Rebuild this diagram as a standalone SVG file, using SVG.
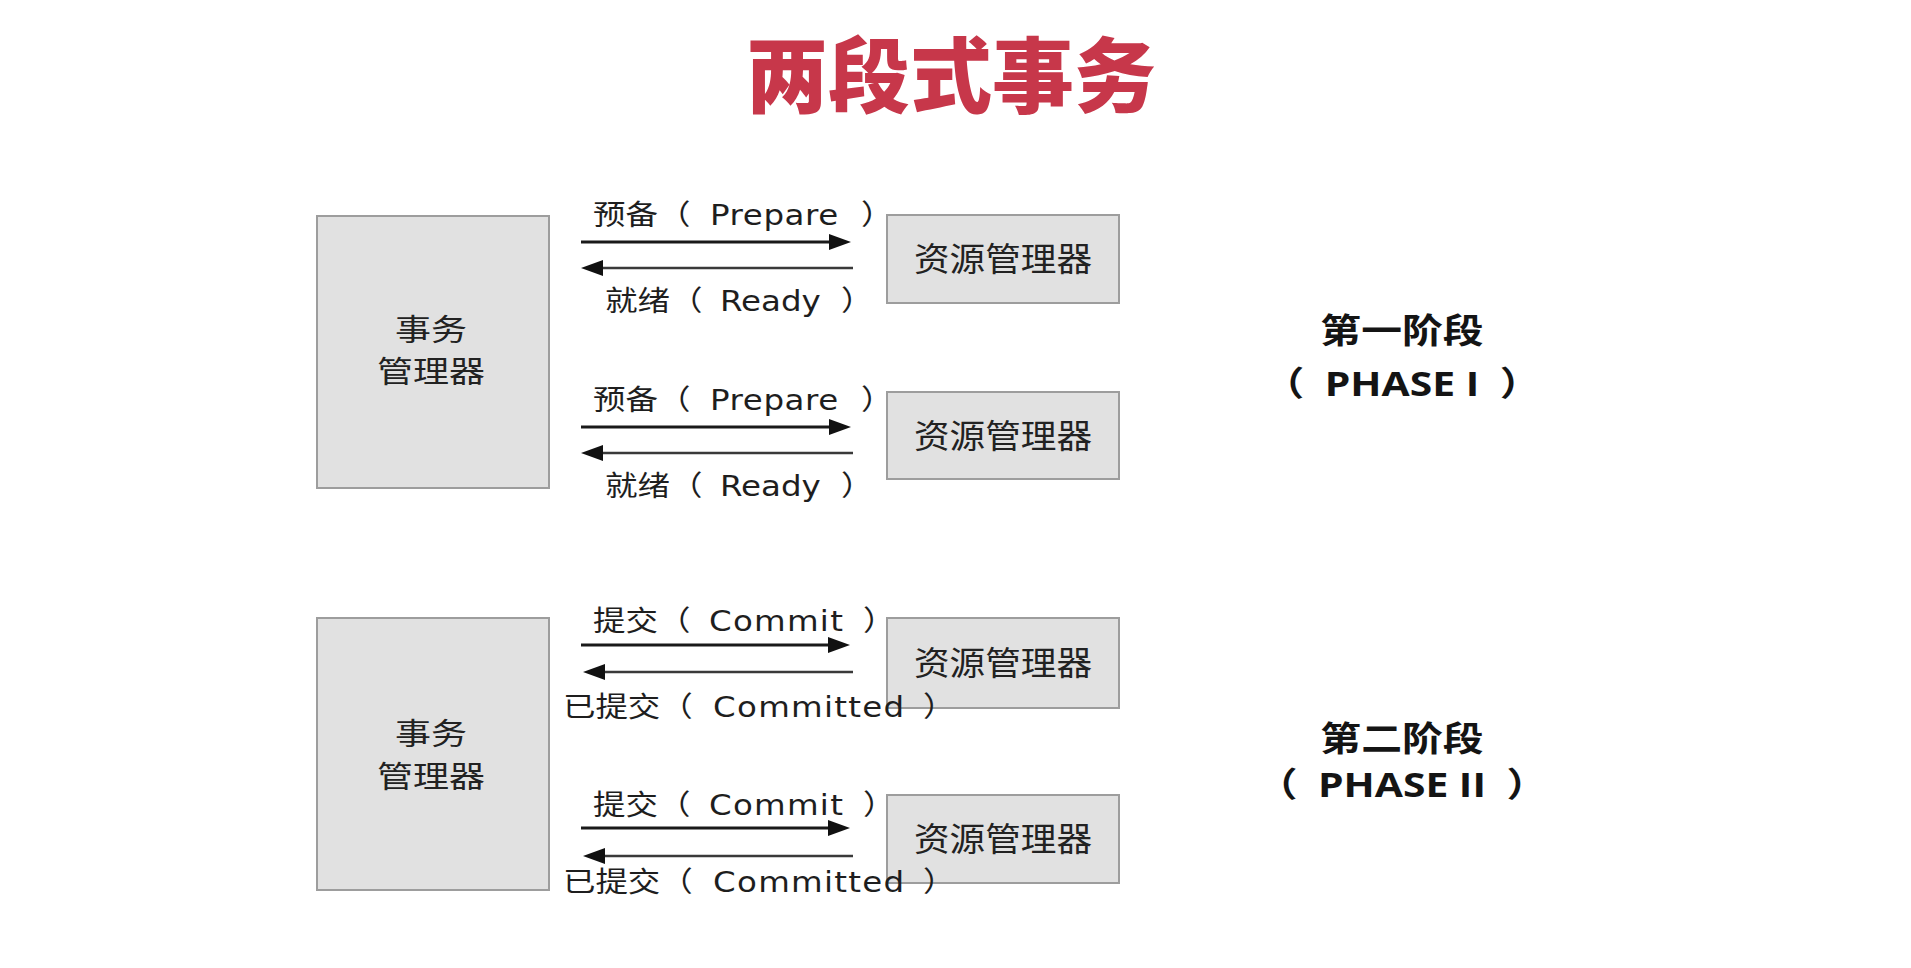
<svg xmlns="http://www.w3.org/2000/svg" width="1911" height="968" viewBox="0 0 1911 968">
<style>
.bg{fill:#ffffff}
.box{fill:#e1e1e1;stroke:#9d9d9d;stroke-width:2}
.title{font-family:"Noto Sans CJK SC",sans-serif;font-weight:900;font-size:82px;fill:#c7374a;text-anchor:middle}
.tm{font-family:"Noto Sans CJK SC",sans-serif;font-size:30px;fill:#222222;text-anchor:middle}
.rm{font-family:"Noto Sans CJK SC",sans-serif;font-size:33px;fill:#222222;text-anchor:middle}
.lbl{font-family:"DejaVu Sans","Noto Sans CJK SC",sans-serif;font-size:28px;fill:#1e1e1e}
.ph{font-family:"Open Sans","Noto Sans CJK SC",sans-serif;font-weight:700;font-size:34px;fill:#141414;text-anchor:middle}
.fwd{stroke:#1a1a1a;stroke-width:3;fill:none}
.back{stroke:#3a3a3a;stroke-width:2.5;fill:none}
.ls1{letter-spacing:0.5px}
.ls2{letter-spacing:1.1px}
</style>
<defs>
<marker id="ah" viewBox="0 0 22 16" markerWidth="22" markerHeight="16" refX="1" refY="8" markerUnits="userSpaceOnUse" orient="auto">
<path d="M0,0 L22,8 L0,16 Z" fill="#111111"/>
</marker>
</defs>
<rect class="bg" x="0" y="0" width="1911" height="968"/>
<g id="title"><text class="title" x="951" y="106">两段式事务</text></g>

<g id="tm1"><rect class="box" x="317" y="216" width="232" height="272"/>
<text class="tm" transform="scale(1.2,1)"><tspan x="359.2" y="340">事务</tspan><tspan x="359.2" y="382">管理器</tspan></text></g>
<g id="rm1"><rect class="box" x="887" y="215" width="232" height="88"/>
<text class="rm" transform="scale(1.08,1)" x="928.7" y="271">资源管理器</text></g>
<g id="rm2"><rect class="box" x="887" y="392" width="232" height="87"/>
<text class="rm" transform="scale(1.08,1)" x="928.7" y="448">资源管理器</text></g>

<g id="tm2"><rect class="box" x="317" y="618" width="232" height="272"/>
<text class="tm" transform="scale(1.2,1)"><tspan x="359.2" y="744">事务</tspan><tspan x="359.2" y="787">管理器</tspan></text></g>
<g id="rm3"><rect class="box" x="887" y="618" width="232" height="90"/>
<text class="rm" transform="scale(1.08,1)" x="928.7" y="675">资源管理器</text></g>
<g id="rm4"><rect class="box" x="887" y="795" width="232" height="88"/>
<text class="rm" transform="scale(1.08,1)" x="928.7" y="851">资源管理器</text></g>

<g id="connectors">
<line class="fwd" x1="581" y1="242" x2="830" y2="242" marker-end="url(#ah)"/>
<line class="back" x1="853" y1="268" x2="602" y2="268" marker-end="url(#ah)"/>
<line class="fwd" x1="581" y1="427" x2="830" y2="427" marker-end="url(#ah)"/>
<line class="back" x1="853" y1="453" x2="602" y2="453" marker-end="url(#ah)"/>
<line class="fwd" x1="581" y1="645" x2="829" y2="645" marker-end="url(#ah)"/>
<line class="back" x1="853" y1="672" x2="604" y2="672" marker-end="url(#ah)"/>
<line class="fwd" x1="581" y1="828" x2="829" y2="828" marker-end="url(#ah)"/>
<line class="back" x1="853" y1="856" x2="604" y2="856" marker-end="url(#ah)"/>

<text class="lbl" transform="scale(1.16,1)" y="225"><tspan x="511.2">预备（ </tspan><tspan class="ls1" x="612.1">Prepare </tspan><tspan x="742.2">）</tspan></text>
<text class="lbl" transform="scale(1.16,1)" y="311"><tspan x="521.6">就绪（ </tspan><tspan x="620.7">Ready </tspan><tspan x="725.0">）</tspan></text>
<text class="lbl" transform="scale(1.16,1)" y="410"><tspan x="511.2">预备（ </tspan><tspan class="ls1" x="612.1">Prepare </tspan><tspan x="742.2">）</tspan></text>
<text class="lbl" transform="scale(1.16,1)" y="496"><tspan x="521.6">就绪（ </tspan><tspan x="620.7">Ready </tspan><tspan x="725.0">）</tspan></text>

<text class="lbl" transform="scale(1.16,1)" y="631"><tspan x="511.2">提交（ </tspan><tspan class="ls2" x="611.2">Commit </tspan><tspan x="744.0">）</tspan></text>
<text class="lbl" transform="scale(1.16,1)" y="717"><tspan x="485.3">已提交（ </tspan><tspan class="ls2" x="614.7">Committed </tspan><tspan x="795.7">）</tspan></text>
<text class="lbl" transform="scale(1.16,1)" y="815"><tspan x="511.2">提交（ </tspan><tspan class="ls2" x="611.2">Commit </tspan><tspan x="744.0">）</tspan></text>
<text class="lbl" transform="scale(1.16,1)" y="892"><tspan x="485.3">已提交（ </tspan><tspan class="ls2" x="614.7">Committed </tspan><tspan x="795.7">）</tspan></text>
</g>

<g id="phase1"><text class="ph" transform="scale(1.2,1)"><tspan x="1168.3" y="343">第一阶段</tspan><tspan x="1168.3" y="396">（</tspan><tspan dx="8.3"> PHASE I</tspan><tspan dx="8.3"> ）</tspan></text></g>
<g id="phase2"><text class="ph" transform="scale(1.2,1)"><tspan x="1168.3" y="751">第二阶段</tspan><tspan x="1168.3" y="797">（</tspan><tspan dx="8.3"> PHASE II</tspan><tspan dx="8.3"> ）</tspan></text></g>
</svg>
